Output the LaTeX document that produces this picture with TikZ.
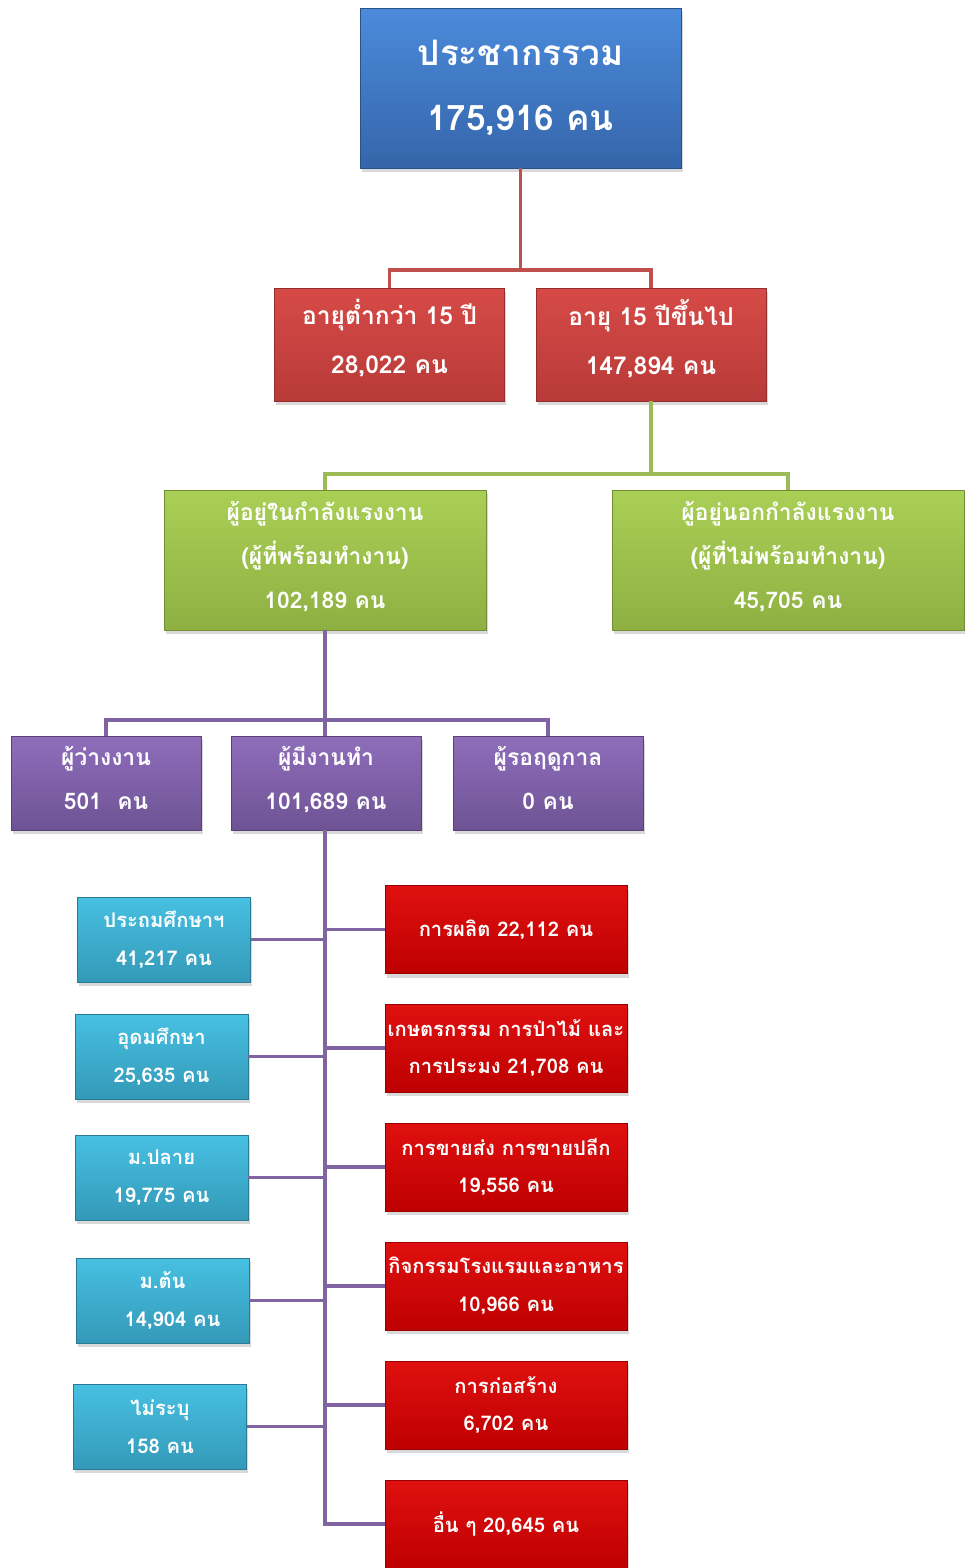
\documentclass[tikz,border=0pt]{standalone}
\usepackage{fontspec}
\newfontfamily\thaifont[Script=Thai]{Loma}
\usetikzlibrary{shadows}

\definecolor{popblue}{HTML}{4B8BDB}
\definecolor{popbluedark}{HTML}{3565AA}
\definecolor{agered}{HTML}{D64A47}
\definecolor{ageredark}{HTML}{B83A38}
\definecolor{forcegreen}{HTML}{AACF55}
\definecolor{forcegreendark}{HTML}{8EB043}
\definecolor{workpurple}{HTML}{8F6DBB}
\definecolor{workpurpledark}{HTML}{6E5394}
\definecolor{educyan}{HTML}{47C0E2}
\definecolor{educyandark}{HTML}{3499B8}
\definecolor{sectred}{HTML}{E01010}
\definecolor{sectreddark}{HTML}{BE0000}
\definecolor{redline}{HTML}{C0504D}
\definecolor{greenline}{HTML}{9BBB59}
\definecolor{purpleline}{HTML}{8064A2}

\tikzset{
  box/.style={rectangle, text=white, align=center, inner sep=0pt,
    drop shadow={opacity=0.3, shadow xshift=1pt, shadow yshift=-2.5pt}},
  popbox/.style={box, top color=popblue, bottom color=popbluedark,
    draw=popbluedark!80!black, minimum width=6.42cm, minimum height=3.2cm,
    font=\thaifont\bfseries\fontsize{20}{37}\selectfont},
  agebox/.style={box, top color=agered, bottom color=ageredark,
    draw=ageredark!80!black, minimum width=4.6cm, minimum height=2.26cm,
    text depth=9pt, font=\thaifont\bfseries\fontsize{14}{28}\selectfont},
  forcebox/.style={box, top color=forcegreen, bottom color=forcegreendark,
    draw=forcegreendark!80!black, minimum height=2.8cm,
    text depth=6pt, font=\thaifont\bfseries\fontsize{13}{25}\selectfont},
  workbox/.style={box, top color=workpurple, bottom color=workpurpledark,
    draw=workpurpledark!80!black, minimum width=3.8cm, minimum height=1.88cm,
    text depth=6pt, font=\thaifont\bfseries\fontsize{13}{25}\selectfont},
  edubox/.style={box, top color=educyan, bottom color=educyandark,
    draw=educyandark!80!black, minimum width=3.46cm, minimum height=1.7cm,
    font=\thaifont\bfseries\fontsize{11.5}{21.5}\selectfont},
  sectbox/.style={box, top color=sectred, bottom color=sectreddark,
    draw=sectreddark!80!black, minimum width=4.84cm, minimum height=1.76cm,
    font=\thaifont\bfseries\fontsize{11.5}{21.5}\selectfont},
  link/.style={line width=2.2pt}
}

\begin{document}
\begin{tikzpicture}[x=0.02cm, y=-0.02cm]
\useasboundingbox (0,0) rectangle (964,1568);

% top levels
\node [popbox] (pop) at (520.5,88) {ประชากรรวม\\175,916 คน};
\node [agebox] (young) at (389.5,344.5) {อายุต่ำกว่า 15 ปี\\28,022 คน};
\node [agebox] (adult) at (651,344.5) {อายุ 15 ปีขึ้นไป\\147,894 คน};
\node [forcebox, minimum width=6.44cm] (inforce) at (325,560)
  {ผู้อยู่ในกำลังแรงงาน\\(ผู้ที่พร้อมทำงาน)\\102,189 คน};
\node [forcebox, minimum width=7.04cm] (outforce) at (788,560)
  {ผู้อยู่นอกกำลังแรงงาน\\(ผู้ที่ไม่พร้อมทำงาน)\\45,705 คน};
\node [workbox] (jobless) at (106,783) {ผู้ว่างงาน\\501~ คน};
\node [workbox] (work) at (326,783) {ผู้มีงานทำ\\101,689 คน};
\node [workbox] (season) at (548,783) {ผู้รอฤดูกาล\\0 คน};

% education
\node [edubox] (edu1) at (164,939.5) {ประถมศึกษาฯ\\41,217 คน};
\node [edubox] (edu2) at (161.5,1056.5) {อุดมศึกษา\\25,635 คน};
\node [edubox] (edu3) at (161.5,1177.5) {ม.ปลาย\\19,775 คน};
\node [edubox] (edu4) at (162.5,1300.5) {ม.ต้น\\\hspace{1em}14,904 คน};
\node [edubox] (edu5) at (160,1426.5) {ไม่ระบุ\\158 คน};

% sectors
\node [sectbox] (sect1) at (506,929.5) {การผลิต 22,112 คน};
\node [sectbox] (sect2) at (506,1048) {เกษตรกรรม การป่าไม้ และ\\การประมง 21,708 คน};
\node [sectbox] (sect3) at (506,1167) {การขายส่ง การขายปลีก\\19,556 คน};
\node [sectbox] (sect4) at (506,1286) {กิจกรรมโรงแรมและอาหาร\\10,966 คน};
\node [sectbox] (sect5) at (506,1405) {การก่อสร้าง\\6,702 คน};
\node [sectbox] (sect6) at (506,1524) {อื่น ๆ 20,645 คน};

% connectors
\draw [link, redline] (pop.south) -- (pop.south |- 0,270) -| (young.north);
\draw [link, redline] (pop.south |- 0,270) -| (adult.north);
\draw [link, greenline] (adult.south) -- (adult.south |- 0,474) -| (inforce.north);
\draw [link, greenline] (adult.south |- 0,474) -| (outforce.north);
\draw [link, purpleline] (inforce.south) -- (inforce.south |- 0,720) -| (jobless.north);
\draw [link, purpleline] (inforce.south |- 0,720) -| (season.north);
\draw [link, purpleline] (inforce.south |- 0,720) -- (inforce.south |- work.north);
\draw [link, purpleline] (work.south -| inforce.south) |- (sect6.west);
\foreach \i in {1,...,5}
  \draw [link, purpleline] (edu\i.east) -- (edu\i.east -| inforce.south);
\foreach \i in {1,...,5}
  \draw [link, purpleline] (sect\i.west) -- (sect\i.west -| inforce.south);
\end{tikzpicture}
\end{document}
